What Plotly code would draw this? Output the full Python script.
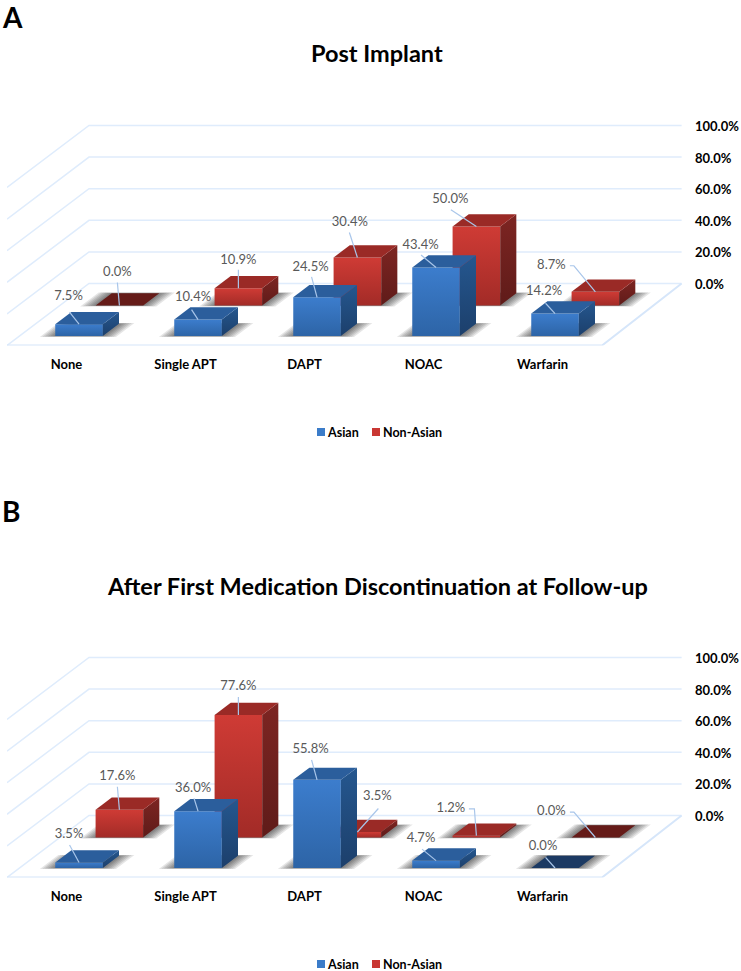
import plotly.graph_objects as go

# --- data ---
categories = ["None", "Single APT", "DAPT", "NOAC", "Warfarin"]
series_names = ["Asian", "Non-Asian"]

post_asian = [7.5, 10.4, 24.5, 43.4, 14.2]
post_non_asian = [0.0, 10.9, 30.4, 50.0, 8.7]
followup_asian = [3.5, 36.0, 55.8, 4.7, 0.0]
followup_non_asian = [17.6, 77.6, 3.5, 1.2, 0.0]

tick_values = [0, 20, 40, 60, 80, 100]
tick_labels = ["0.0%", "20.0%", "40.0%", "60.0%", "80.0%", "100.0%"]

# --- hand placed data labels: (label centre offset px, leader points offset px) from the bar ---
post_asian_labels = [
    ((-10.5, -27), [(-9.5, -12)]), ((-5, -22), [(-6.5, -10)]), ((-6.5, -30), [(-5.5, -20.5)]),
    ((-15.5, -21.7), [(-15, -12.4)]), ((-11, -21.6), [(-9.5, -10.3)]),
]
post_non_asian_labels = [
    ((-2, -33), [(-2, -23)]), ((0, -28), [(0, -18.5)]), ((-7.5, -35), [(-8, -25)]),
    ((-26, -26.7), [(-25.5, -16.7)]), ((-44, -26), [(-25.5, -26), (-21.5, -26)]),
]
followup_asian_labels = [
    ((-10, -27.5), [(-9.5, -17.5)]), ((-5, -22.7), [(-4, -12.7)]), ((-6.5, -29.8), [(-5.5, -20)]),
    ((-15, -22), [(-14, -11.5)]), ((-12, -21), [(-9.5, -10.7)]),
]
followup_non_asian_labels = [
    ((-2, -33), [(-2, -23)]), ((0, -28), [(0, -18)]), ((20, -35), [(21, -23.5)]),
    ((-25.5, -26.8), [(-7.5, -26.8), (-2, -26.8)]), ((-44, -25.3), [(-25.5, -25.3), (-21.5, -25.3)]),
]

# --- layout of the fake 3D box, all in px ---
W, H = 741, 971
LEFT, RIGHT = 7, 694
CAT_W = 119
PX_PER_PCT = 1.58
DEPTH_PX_X, DEPTH_PX_Y = 82, 62
DEPTH_X = DEPTH_PX_X / CAT_W
DEPTH_V = DEPTH_PX_Y / PX_PER_PCT
BAR_X = (0.3, 0.7)
BAR_DEPTH = {"Asian": (0.153, 0.35), "Non-Asian": (0.645, 0.842)}
Y_TOP_VALUE = 116
BACK_RIGHT = 4.98

COLORS = {
    "Asian": dict(front=("#2D64A6", "#3C7DCD"), side=("#1C3F6B", "#25578F"), top="#2B5E9C",
                  zero="#1C3A63", swatch="#3B7CC9"),
    "Non-Asian": dict(front=("#A22B27", "#CF3B35"), side=("#5F1B19", "#7D2522"), top="#9A2A26",
                      zero="#651B18", swatch="#C93733"),
}
GRID = "#DFECFC"
FLOOR = "#D6E6FA"
LEADER = "#A9C6EA"
LABEL = "#595959"
FONT = "Lato"


def project(x, depth, value):
    # oblique projection onto the flat axes: depth moves right and up
    return x + depth * DEPTH_X, value - (1 - depth) * DEPTH_V


def polygon(points, **kw):
    xs, ys = zip(*[project(*p) for p in points + points[:1]])
    return go.Scatter(x=xs, y=ys, mode="lines", fill="toself", line=dict(width=0),
                      hoverinfo="skip", showlegend=False, **kw)


def gradient(low, high):
    return dict(type="vertical", colorscale=[[0, low], [1, high]])


def add_box(fig, xref, yref):
    lines_x, lines_y = [], []
    for v in tick_values:
        for p in [(0, 0, v), (0, 1, v), (BACK_RIGHT, 1, v)]:
            px, py = project(*p)
            lines_x.append(px)
            lines_y.append(py)
        lines_x.append(None)
        lines_y.append(None)
    fig.add_trace(go.Scatter(x=lines_x, y=lines_y, mode="lines", line=dict(color=GRID, width=1.5),
                             hoverinfo="skip", showlegend=False, xaxis=xref, yaxis=yref))
    fx, fy = zip(*[project(*p) for p in [(0, 0, 0), (5, 0, 0), (BACK_RIGHT, 1, 0)]])
    fig.add_trace(go.Scatter(x=fx, y=fy, mode="lines", line=dict(color=FLOOR, width=2),
                             hoverinfo="skip", showlegend=False, xaxis=xref, yaxis=yref,
                             cliponaxis=False))


def add_bars(fig, values, name, xref, yref):
    c = COLORS[name]
    d0, d1 = BAR_DEPTH[name]
    for i, v in enumerate(values):
        x0, x1 = i + BAR_X[0], i + BAR_X[1]
        # soft shadow on the floor, a few widening layers
        for e in [0.12, 0.1, 0.08, 0.06, 0.04, 0.02]:
            f = e * 0.12
            fig.add_trace(polygon([(x0 - e, d0 - f, 0), (x1 + e, d0 - f, 0), (x1 + e, d1 + f, 0), (x0 - e, d1 + f, 0)],
                                  fillcolor="rgba(0,0,0,0.1)", xaxis=xref, yaxis=yref))
        if v > 0:
            fig.add_trace(polygon([(x0, d0, 0), (x1, d0, 0), (x1, d0, v), (x0, d0, v)],
                                  fillgradient=gradient(*c["front"]), xaxis=xref, yaxis=yref))
            fig.add_trace(polygon([(x1, d0, 0), (x1, d1, 0), (x1, d1, v), (x1, d0, v)],
                                  fillgradient=gradient(*c["side"]), xaxis=xref, yaxis=yref))
        fig.add_trace(polygon([(x0, d0, v), (x1, d0, v), (x1, d1, v), (x0, d1, v)],
                              fillcolor=c["top"] if v > 0 else c["zero"], xaxis=xref, yaxis=yref))


def add_labels(fig, values, name, placement, xref, yref):
    d0 = BAR_DEPTH[name][0]
    tx, ty, texts, lx, ly = [], [], [], [], []
    for i, (v, (label_off, leader)) in enumerate(zip(values, placement)):
        ax, ay = project(i + 0.5, d0, v)
        tx.append(ax + label_off[0] / CAT_W)
        ty.append(ay - label_off[1] / PX_PER_PCT)
        texts.append(f"{v:.1f}%")
        for off in leader:
            lx.append(ax + off[0] / CAT_W)
            ly.append(ay - off[1] / PX_PER_PCT)
        lx += [ax, None]
        ly += [ay, None]
    fig.add_trace(go.Scatter(x=lx, y=ly, mode="lines", line=dict(color=LEADER, width=1.2),
                             hoverinfo="skip", showlegend=False, xaxis=xref, yaxis=yref))
    fig.add_trace(go.Scatter(x=tx, y=ty, mode="text", text=texts, textposition="middle center",
                             textfont=dict(family=FONT, size=13, color=LABEL), cliponaxis=False,
                             hoverinfo="skip", showlegend=False, xaxis=xref, yaxis=yref))


fig = go.Figure()
panels = [
    ("x", "y", post_asian, post_non_asian, post_asian_labels, post_non_asian_labels),
    ("x2", "y2", followup_asian, followup_non_asian, followup_asian_labels, followup_non_asian_labels),
]
for xref, yref, asian, non_asian, asian_lab, non_asian_lab in panels:
    add_box(fig, xref, yref)
    add_bars(fig, non_asian, "Non-Asian", xref, yref)
    add_bars(fig, asian, "Asian", xref, yref)
    add_labels(fig, non_asian, "Non-Asian", non_asian_lab, xref, yref)
    add_labels(fig, asian, "Asian", asian_lab, xref, yref)


def x_axis(anchor):
    return dict(domain=[LEFT / W, RIGHT / W], range=[0, (RIGHT - LEFT) / CAT_W], anchor=anchor,
                tickmode="array", tickvals=[i + 0.5 for i in range(len(categories))], ticktext=categories,
                tickfont=dict(family=FONT, size=13, color="black", weight=700),
                ticks="outside", ticklen=7, tickcolor="rgba(0,0,0,0)",
                showgrid=False, zeroline=False, showline=False, fixedrange=True)


def y_axis(anchor, px_bottom):
    px_top = px_bottom - (Y_TOP_VALUE + DEPTH_V) * PX_PER_PCT
    return dict(domain=[1 - px_bottom / H, 1 - px_top / H], range=[-DEPTH_V, Y_TOP_VALUE], anchor=anchor,
                side="right", tickmode="array", tickvals=tick_values, ticktext=tick_labels,
                tickfont=dict(family=FONT, size=13, color="black", weight=700),
                ticks="", ticklabelshift=1, showgrid=False, zeroline=False, showline=False, fixedrange=True)


def page_text(text, px_x, px_y, size, xanchor="center"):
    return dict(text=text, x=px_x / W, y=1 - px_y / H, xref="paper", yref="paper", showarrow=False,
                xanchor=xanchor, yanchor="middle",
                font=dict(family=FONT, size=size, color="black", weight=700))


annotations = [
    page_text("A", 0, 17, 28, "left"),
    page_text("B", 0, 511, 28, "left"),
    page_text("Post Implant", 377, 53, 23.5),
    page_text("After First Medication Discontinuation at Follow-up", 377.5, 586, 23.5),
]
shapes = []
# legend rows under each panel
for px_y in [432, 964]:
    for name, swatch_x, text_x in zip(series_names, [317, 372], [325, 381]):
        shapes.append(dict(type="rect", xref="paper", yref="paper", line=dict(width=0),
                           x0=swatch_x / W, x1=(swatch_x + 8) / W,
                           y0=1 - (px_y + 4) / H, y1=1 - (px_y - 4) / H,
                           fillcolor=COLORS[name]["swatch"]))
        annotations.append(page_text(name, text_x, px_y, 12.5, "left"))

fig.update_layout(
    width=W, height=H, margin=dict(l=0, r=0, t=0, b=0),
    paper_bgcolor="white", plot_bgcolor="white", showlegend=False,
    xaxis=x_axis("y"), yaxis=y_axis("x", 345.5),
    xaxis2=x_axis("y2"), yaxis2=y_axis("x2", 877.5),
    annotations=annotations, shapes=shapes,
)

fig.write_html("out.html", config=dict(displayModeBar=False), post_script="document.body.style.margin='0';")
